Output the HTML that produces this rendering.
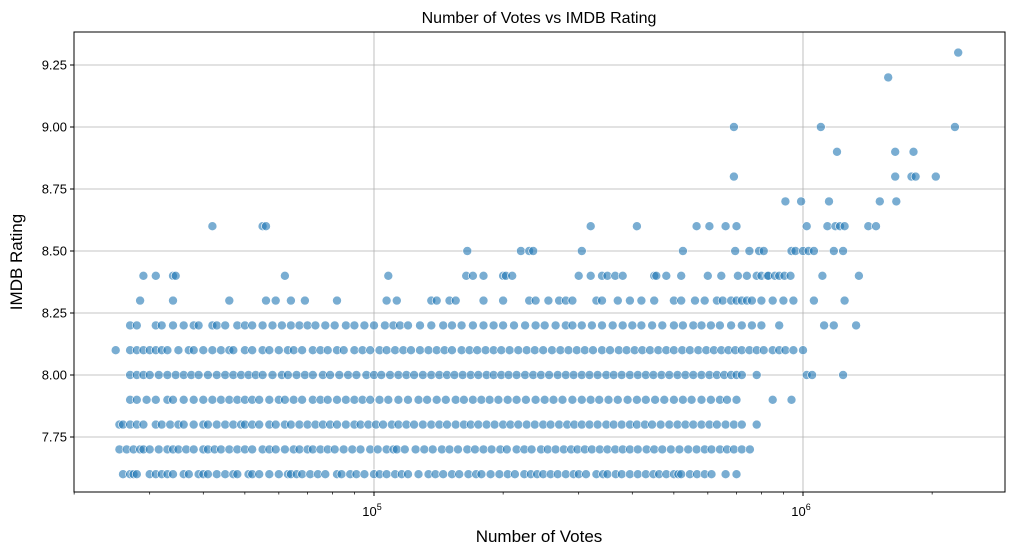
<!DOCTYPE html>
<html><head><meta charset="utf-8"><style>
html,body{margin:0;padding:0;background:#fff;}
svg{display:block;font-family:"Liberation Sans","DejaVu Sans",sans-serif;}
</style></head><body>
<svg id="chart" width="1014" height="556" viewBox="0 0 1014 556" xmlns="http://www.w3.org/2000/svg">
<rect width="1014" height="556" fill="#fff"/>
<g id="grid"></g>
<g id="points"></g>
<g id="axes"></g>
<text x="539" y="23" text-anchor="middle" font-size="16" fill="#000">Number of Votes vs IMDB Rating</text>
<text x="539" y="542" text-anchor="middle" font-size="17" fill="#000">Number of Votes</text>
<text transform="translate(22,262) rotate(-90)" text-anchor="middle" font-size="17" fill="#000">IMDB Rating</text>
</svg>
<script>
// votes in thousands, by rating row
const r76 = [26,27,27.5,28,30,31,32,33,34,36,37,39,40,41,43,45,47,48,51,52,54,57,60,63,64,66,68,71,74,77,82,84,88,91,95,100,103,107,112,116,120,127,134,139,145,152,158,166,173,178,187,196,205,213,224,232,240,248,258,268,280,292,300,312,330,342,350,366,378,395,412,430,448,462,480,500,512,520,545,566,590,612,660,700];
const r77 = [25.5,26.5,27.5,28.5,29,30,31.5,33,34,35,36.5,38,40,41,42.5,44,46,48,50,52,55,57,59,62,65,67,70,72,75,78,81,85,89,93,98,102,107,111,113,118,125,131,137,144,150,157,165,172,180,188,197,204,215,224,233,245,254,265,277,288,298,310,322,336,350,365,380,395,412,432,450,470,492,515,540,565,590,612,640,665,690,720,752];
const r78 = [25.5,26,27,28,29,31,32,33.5,35,36,38,40,41,43,45,47,49,50,52,54,57,59,62,64,67,70,73,76,79,82,86,90,93,97,101,105,110,114,119,124,130,136,142,148,155,162,168,175,183,191,200,208,217,227,237,248,258,270,282,293,305,318,332,348,362,378,395,410,428,445,466,488,510,532,555,580,605,630,660,690,720,780];
const r79 = [27,28,29.5,31,33,34,36,38,40,42,44,46,48,50,52,54,57,60,62,65,68,72,75,78,82,86,90,94,98,103,108,114,120,127,133,140,147,155,162,170,178,186,195,205,215,226,238,250,262,275,290,305,320,335,352,370,390,410,430,452,475,500,525,550,580,610,640,665,700,850,940];
const r80 = [27,28,29,30,31.5,33,34.5,36,37.5,39,41,43,45,47,49,51,53,55,58,61,63,66,69,72,76,79,83,87,91,96,100,104,109,114,119,124,130,136,142,148,154,161,168,175,183,190,198,206,215,225,235,245,256,268,280,292,305,318,332,348,362,378,395,412,430,448,468,488,510,532,555,580,605,630,655,680,700,720,780,1020,1050,1240];
const r81 = [25,27,28,29,30,31,32,33,35,37,38,40,42,44,46,47,50,52,55,57,60,63,65,68,72,75,78,82,85,90,94,98,103,107,112,117,122,128,134,140,146,152,160,167,174,182,190,198,207,217,227,237,248,260,272,284,297,310,324,340,355,372,388,405,422,440,460,480,500,523,545,570,595,620,645,670,695,720,750,780,810,850,880,910,950,1000];
const r82 = [27,28,31,32,34,36,38,39,42,43,45,48,50,52,55,58,61,64,67,70,73,77,81,86,90,95,100,106,111,115,120,128,136,145,152,160,170,180,190,200,212,225,238,250,265,280,290,305,322,340,360,380,400,420,445,470,500,525,555,580,610,640,680,720,760,800,880,1120,1180,1330];
const r83 = [28.5,34,46,56,59,64,69,82,107,113,136,140,150,155,180,200,230,238,255,270,280,290,330,340,370,395,420,450,500,520,560,590,630,650,680,700,720,740,760,800,850,900,950,1060,1250];
const r84 = [29,31,34,34.5,62,108,164,170,180,200,203,210,300,320,340,350,365,380,450,455,480,520,600,645,705,740,780,800,825,830,860,880,905,935,1110,1350];
const r85 = [165,220,230,235,305,525,695,750,790,810,940,960,1000,1030,1060,1180,1240];
const r86 = [42,55,56,320,410,565,605,660,700,1020,1140,1190,1220,1250,1420,1480];
const r87 = [910,990,1150,1510,1650];
const r88 = [690,1640,1790,1830,2040];
const r89 = [1200,1640,1810];
const r90 = [690,1100,2260];
const r92 = [1580];
const r93 = [2300];
const rowRatings = [7.6,7.7,7.8,7.9,8.0,8.1,8.2,8.3,8.4,8.5,8.6,8.7,8.8,8.9,9.0,9.2,9.3];
const rows = [r76,r77,r78,r79,r80,r81,r82,r83,r84,r85,r86,r87,r88,r89,r90,r92,r93];
const xTickLabels = ["10^5","10^6"];
const yTicks = [7.75,8.0,8.25,8.5,8.75,9.0,9.25];

const NS="http://www.w3.org/2000/svg";
const L=74,R=1005,T=32,B=492;
function xs(v){return 374+(Math.log10(v)-5)*429;}
function ys(r){return 437-(r-7.75)*248;}
function mk(t,a,p){const e=document.createElementNS(NS,t);for(const k in a)e.setAttribute(k,a[k]);p.appendChild(e);return e;}
const grid=document.getElementById('grid'),pts=document.getElementById('points'),axes=document.getElementById('axes');
// grid
[1e5,1e6].forEach(v=>{const g=mk('line',{x1:xs(v),x2:xs(v),y1:T,y2:B,stroke:'#b0b0b0','stroke-width':0.8},grid);

});
yTicks.forEach(t=>{const g=mk('line',{x1:L,x2:R,y1:ys(t),y2:ys(t),stroke:'#b0b0b0','stroke-width':0.8},grid);

});
// points
rows.forEach((row,i)=>{row.forEach(k=>{const c=mk('circle',{cx:xs(k*1000).toFixed(1),cy:ys(rowRatings[i]).toFixed(1),r:4.5,fill:'#1f77b4','fill-opacity':0.6,stroke:'#fff','stroke-width':0.6},pts);

});});
// frame
const fr=mk('rect',{x:L,y:T,width:R-L,height:B-T,fill:'none',stroke:'#000','stroke-width':1},axes);


// y ticks
yTicks.forEach(t=>{const y=ys(t);mk('line',{x1:L-4,x2:L,y1:y,y2:y,stroke:'#000'},axes);
const tx=mk('text',{x:L-7,y:y+4.5,'text-anchor':'end','font-size':13},axes);tx.textContent=t.toFixed(2);

});
// x major ticks
[5,6].forEach((p,i)=>{const x=xs(Math.pow(10,p));mk('line',{x1:x,x2:x,y1:B,y2:B+4,stroke:'#000'},axes);
const tx=mk('text',{x:x-2,y:B+24,'text-anchor':'middle','font-size':13},axes);
tx.textContent='10';const s=mk('tspan',{dy:-6,'font-size':9},tx);s.textContent=String(p);

});
// minor ticks
for(let d=4;d<=6;d++)for(let m=2;m<=9;m++){const v=m*Math.pow(10,d);const x=xs(v);if(x<L-0.5||x>R)continue;
mk('line',{x1:x,x2:x,y1:B,y2:B+2.5,stroke:'#000','stroke-width':0.7},axes);}
</script>
</body></html>
